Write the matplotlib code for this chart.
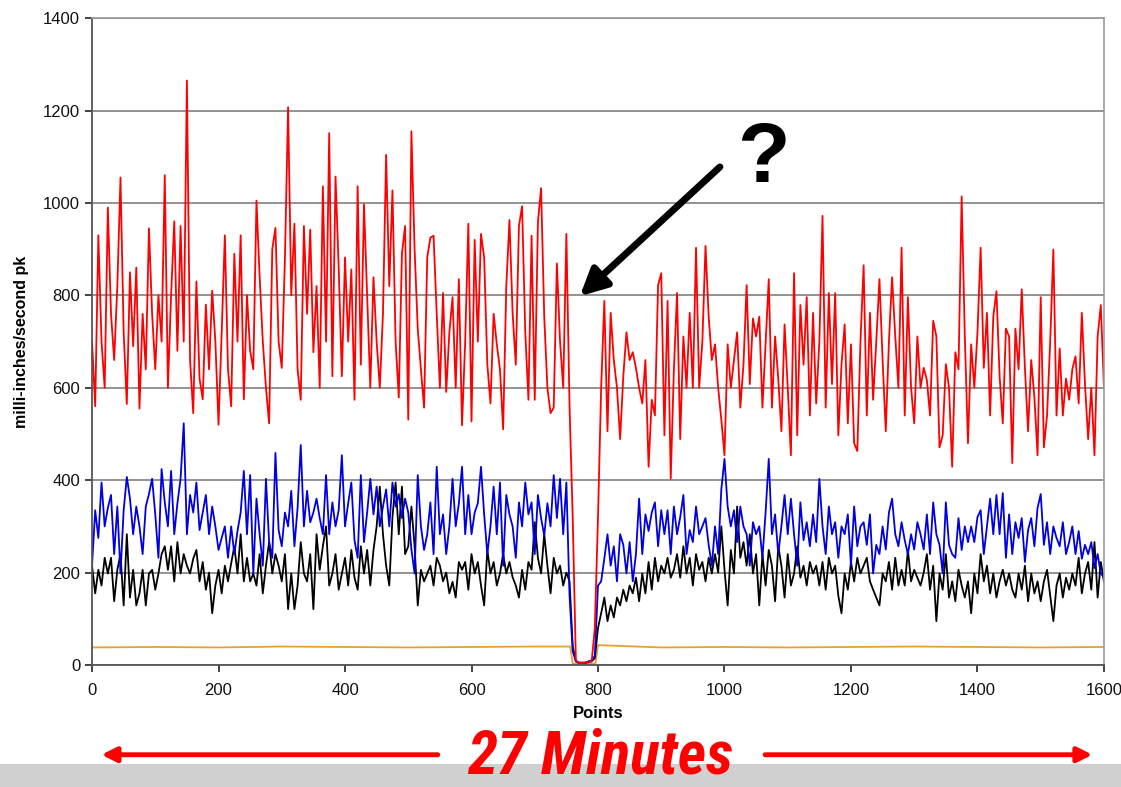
import numpy as np
import matplotlib
matplotlib.use("Agg")
import matplotlib.pyplot as plt
from matplotlib.patches import Rectangle, FancyArrowPatch
from matplotlib import font_manager

plt.rcParams['font.family'] = ['Liberation Sans', 'DejaVu Sans']

# sample index (every 5th point)
STEP = 5

red_vals = [
    700, 560, 930, 700, 600, 990, 760, 660, 820, 1055, 720, 565, 850, 690, 860, 555, 760, 640, 945, 760,
    640, 800, 700, 1060, 600, 800, 960, 680, 950, 700, 1265, 660, 545, 830, 620, 575, 780, 640, 810, 700,
    520, 720, 930, 640, 560, 890, 700, 930, 575, 800, 680, 640, 1005, 840, 700, 600, 523, 900, 946, 700,
    643, 880, 1207, 800, 955, 640, 574, 950, 760, 942, 677, 820, 600, 1036, 700, 1151, 625, 1057, 860, 625,
    882, 700, 856, 574, 1036, 650, 997, 796, 600, 839, 700, 600, 760, 1104, 820, 1027, 700, 579, 890, 950,
    531, 1155, 900, 728, 640, 557, 882, 925, 929, 760, 600, 805, 591, 720, 796, 600, 835, 519, 700, 955,
    527, 920, 700, 933, 882, 651, 566, 760, 694, 640, 510, 820, 963, 762, 650, 950, 993, 720, 574, 929,
    574, 959, 1032, 754, 600, 545, 557, 869, 700, 600, 933, 560, 320, 10, 5, 4, 5, 6, 8, 80,
    320, 600, 788, 506, 762, 660, 600, 489, 625, 720, 660, 677, 643, 600, 566, 660, 429, 574, 540, 822,
    848, 497, 788, 403, 640, 805, 489, 711, 600, 762, 600, 903, 600, 700, 907, 754, 660, 694, 600, 531,
    454, 694, 600, 660, 720, 557, 650, 822, 608, 750, 711, 754, 557, 694, 835, 557, 711, 620, 506, 737,
    600, 454, 848, 497, 779, 650, 796, 540, 762, 566, 700, 972, 557, 805, 608, 805, 497, 650, 737, 523,
    694, 480, 463, 700, 865, 540, 762, 574, 700, 835, 660, 506, 700, 839, 711, 600, 903, 540, 796, 600,
    523, 711, 600, 643, 617, 540, 745, 711, 471, 497, 651, 600, 429, 677, 640, 1014, 711, 480, 694, 600,
    720, 903, 643, 762, 540, 754, 809, 625, 523, 728, 711, 437, 728, 640, 813, 643, 506, 660, 580, 454,
    796, 471, 540, 700, 899, 540, 685, 540, 620, 574, 640, 668, 566, 762, 608, 489, 600, 454, 711, 779,
    600,
]

blue_vals = [
    215, 335, 275, 395, 300, 340, 368, 240, 343, 198, 335, 407, 360, 283, 343, 300, 240, 343, 370, 403,
    326, 232, 424, 352, 300, 420, 283, 350, 403, 523, 283, 368, 330, 395, 292, 330, 368, 283, 343, 300,
    249, 275, 300, 232, 300, 240, 290, 330, 420, 283, 411, 198, 360, 283, 215, 403, 266, 232, 459, 292,
    257, 330, 300, 377, 257, 340, 476, 300, 377, 309, 330, 360, 318, 283, 411, 283, 352, 300, 335, 454,
    300, 350, 395, 270, 232, 411, 266, 330, 403, 326, 386, 300, 343, 380, 300, 395, 343, 370, 318, 360,
    330, 250, 198, 411, 300, 249, 283, 352, 240, 429, 283, 326, 240, 300, 403, 300, 350, 429, 283, 368,
    283, 330, 350, 429, 326, 240, 300, 386, 283, 395, 215, 368, 326, 300, 232, 352, 300, 395, 326, 352,
    240, 368, 318, 280, 350, 300, 411, 318, 403, 283, 395, 150, 30, 8, 5, 5, 5, 8, 10, 20,
    172, 181, 230, 283, 215, 257, 181, 283, 260, 198, 266, 181, 240, 360, 240, 326, 290, 330, 352, 257,
    335, 283, 335, 240, 343, 283, 320, 368, 240, 292, 266, 343, 283, 300, 318, 260, 215, 300, 240, 380,
    446, 343, 300, 335, 266, 343, 300, 283, 215, 309, 283, 300, 232, 330, 446, 283, 326, 240, 300, 368,
    283, 360, 283, 215, 352, 270, 309, 257, 326, 266, 403, 300, 240, 343, 283, 309, 232, 300, 283, 326,
    215, 343, 257, 300, 309, 260, 326, 198, 260, 240, 300, 250, 330, 360, 283, 257, 309, 270, 240, 283,
    250, 309, 283, 250, 326, 240, 352, 283, 260, 198, 352, 260, 240, 232, 318, 249, 300, 266, 300, 266,
    320, 335, 240, 300, 360, 283, 368, 283, 372, 232, 326, 240, 309, 275, 318, 223, 292, 318, 257, 340,
    370, 260, 309, 240, 300, 275, 257, 309, 240, 266, 300, 240, 290, 230, 260, 240, 266, 210, 240, 198,
    190,
]

black_vals = [
    215, 155, 206, 172, 232, 198, 232, 138, 206, 240, 129, 283, 146, 206, 129, 155, 206, 129, 198, 206,
    163, 198, 240, 257, 206, 257, 181, 266, 198, 240, 215, 198, 230, 249, 181, 223, 163, 200, 112, 172,
    206, 155, 215, 181, 220, 257, 198, 283, 181, 232, 181, 198, 172, 240, 155, 215, 266, 198, 240, 215,
    181, 240, 121, 198, 121, 172, 266, 198, 181, 240, 121, 283, 206, 257, 300, 172, 198, 240, 163, 198,
    232, 172, 249, 189, 163, 257, 198, 249, 172, 249, 300, 386, 283, 215, 172, 320, 395, 283, 386, 240,
    257, 343, 257, 129, 206, 181, 198, 215, 172, 232, 215, 181, 200, 155, 180, 146, 223, 206, 223, 163,
    240, 198, 223, 172, 129, 249, 198, 223, 172, 198, 240, 198, 223, 190, 172, 146, 206, 163, 223, 206,
    309, 232, 198, 283, 215, 155, 232, 198, 215, 172, 200, 181, 40, 8, 5, 5, 5, 6, 8, 15,
    80, 112, 146, 95, 129, 103, 146, 129, 163, 138, 172, 155, 189, 138, 198, 155, 223, 163, 232, 181,
    215, 198, 232, 189, 206, 240, 189, 257, 198, 232, 172, 240, 206, 223, 181, 232, 198, 240, 200, 300,
    206, 129, 249, 198, 343, 232, 266, 215, 283, 198, 240, 129, 240, 172, 249, 215, 138, 257, 215, 146,
    240, 172, 198, 257, 189, 215, 172, 223, 198, 215, 172, 223, 163, 232, 198, 215, 150, 112, 198, 163,
    223, 181, 232, 198, 215, 232, 181, 163, 146, 129, 198, 181, 223, 163, 232, 172, 206, 172, 249, 181,
    206, 189, 172, 200, 240, 163, 215, 95, 198, 163, 240, 146, 181, 138, 206, 172, 146, 181, 112, 198,
    155, 240, 181, 215, 155, 198, 146, 181, 206, 172, 198, 163, 146, 198, 163, 215, 138, 198, 155, 181,
    138, 181, 206, 150, 95, 172, 198, 146, 189, 163, 198, 172, 232, 155, 198, 223, 163, 266, 146, 223,
    180,
]

orange_pts = [0, 100, 200, 300, 400, 500, 600, 700, 756, 760, 796, 800, 900, 1000, 1100, 1200, 1300, 1400, 1500, 1600]
orange_vals = [38, 39, 38, 40, 39, 38, 39, 40, 40, 3, 3, 43, 38, 39, 38, 39, 40, 39, 38, 39]

yticks = [0, 200, 400, 600, 800, 1000, 1200, 1400]
xticks = [0, 200, 400, 600, 800, 1000, 1200, 1400, 1600]

pts = np.arange(len(red_vals)) * STEP

fig = plt.figure(figsize=(11.21, 7.87), dpi=100)
ax = fig.add_axes([0.0821, 0.155, 0.9027, 0.822])

ax.plot(orange_pts, orange_vals, color='#e8a030', lw=1.3)
ax.plot(pts, black_vals, color='black', lw=1.3)
ax.plot(pts, blue_vals, color='#0000e0', lw=1.3)
ax.plot(pts, red_vals, color='#ff0000', lw=1.3)

ax.set_xlim(0, 1600)
ax.set_ylim(0, 1400)
ax.set_yticks(yticks)
ax.set_xticks(xticks)
ax.yaxis.grid(True, color='#8a8a8a', lw=1.3)
ax.set_axisbelow(True)
for s in ['left', 'bottom']:
    ax.spines[s].set_color('#555555')
    ax.spines[s].set_linewidth(1.3)
for s in ['right', 'top']:
    ax.spines[s].set_color('#999999')
    ax.spines[s].set_linewidth(1.2)
ax.tick_params(axis='both', labelsize=12, colors='#111111', length=5, width=1.1)
ax.tick_params(axis='x', pad=8)

ax.set_xlabel('Points', fontsize=12, fontweight='bold', labelpad=6)
ax.set_ylabel('milli-inches/second pk', fontsize=11.5, fontweight='bold', labelpad=10)

# annotation arrow and question mark
ax.annotate('', xy=(768, 794), xytext=(996, 1082),
            arrowprops=dict(arrowstyle='-|>', lw=5, color='black', mutation_scale=40))
fig.text(0.681, 0.797, '?', fontsize=62, fontweight='bold', ha='center', va='center')

# slide footer
fig.add_artist(Rectangle((0, 0), 1, 0.029, transform=fig.transFigure,
                         facecolor='#d0d0d0', edgecolor='none', zorder=0))

# condensed face for the footer caption if one is installed
names = {f.name for f in font_manager.fontManager.ttflist}
cond = [n for n in ['Liberation Sans Narrow', 'DejaVu Sans Condensed', 'Roboto Condensed',
                    'Open Sans Condensed'] if n in names]
if cond:
    cap_family, cap_size = [cond[0], 'Liberation Sans'], 44
else:
    cap_family, cap_size = ['Liberation Sans'], 37
fig.text(0.535, 0.002, '27 Minutes', fontsize=cap_size, fontweight='bold', fontstyle='italic',
         fontstretch='condensed', color='#ff0000', ha='center', va='bottom', family=cap_family)
for x0, x1 in [(0.393, 0.088), (0.68, 0.977)]:
    fig.add_artist(FancyArrowPatch((x0, 0.041), (x1, 0.041), transform=fig.transFigure,
                                   arrowstyle='-|>', mutation_scale=22, lw=3.5, color='#ff0000'))

fig.savefig('out.png', dpi=100)
